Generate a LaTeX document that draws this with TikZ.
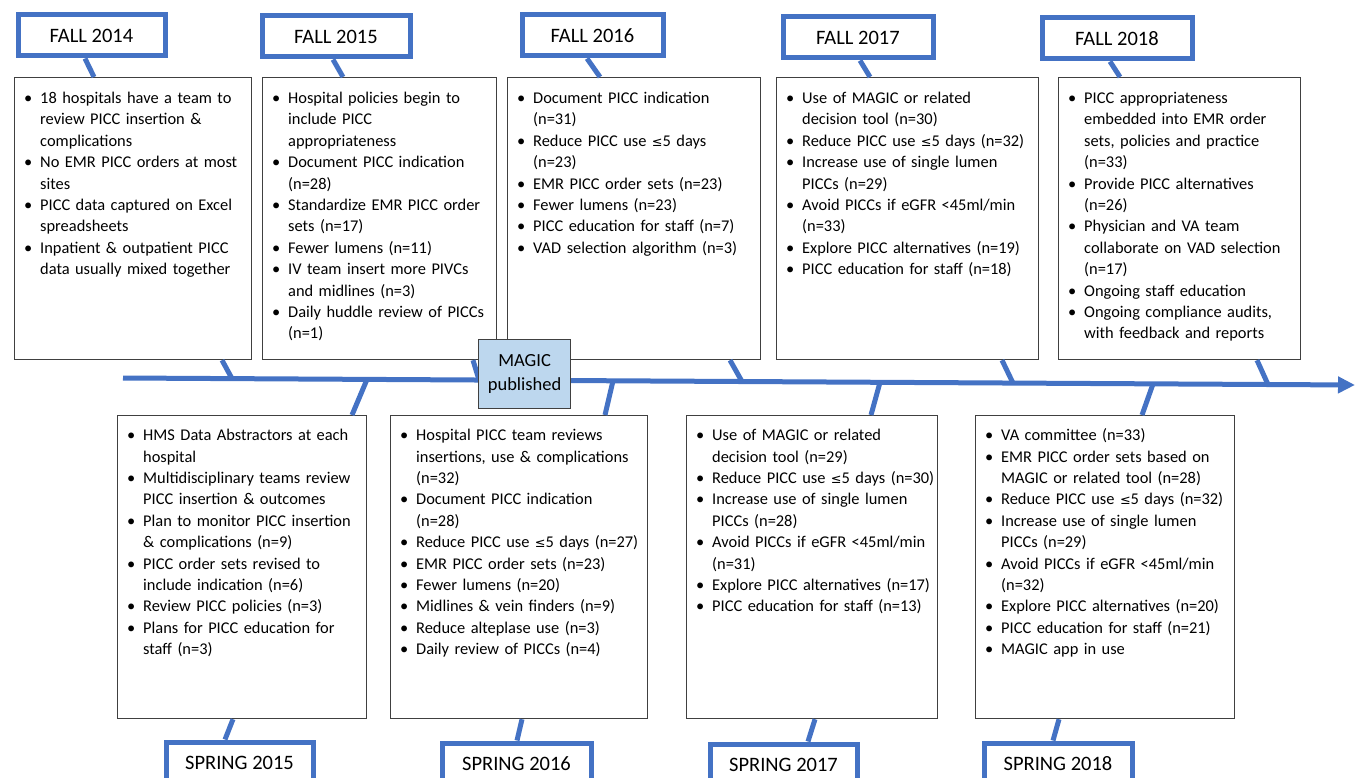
\documentclass[tikz,border=0pt]{standalone}
\usepackage{fontspec}
\setmainfont{Carlito}
\newfontfamily\symf{DejaVu Sans}[Scale=0.78]
\usetikzlibrary{arrows.meta,calc}
\definecolor{tblue}{HTML}{4472C4}
\definecolor{bgray}{HTML}{404040}
\definecolor{mfill}{HTML}{BDD7EE}
\newcommand\myle{{\symf ≤}}
\newcommand\bi{\par\noindent\hangindent=16pt\hangafter=1\strut\makebox[16pt][l]{\textbullet}}
\begin{document}
\begin{tikzpicture}[x=1pt,y=-1pt,
  tab/.style={draw=tblue,line width=5pt,fill=white,anchor=north west,inner sep=0,minimum height=41pt,font=\fontsize{20.5}{24}\selectfont},
  box/.style={draw=bgray,line width=1.2pt,fill=white,anchor=north west,inner sep=0},
  txt/.style={anchor=north west,inner sep=0,align=left,font=\fontsize{16.4}{21.4}\selectfont},
  link/.style={draw=tblue,line width=5pt}]
\useasboundingbox (0,0) rectangle (1356,778);
\clip (0,0) rectangle (1356,778);

% timeline
\coordinate (tl0) at (123,378);
\coordinate (tl1) at (1355,385);
\draw[link,-{Triangle[length=17pt,width=16pt]}] (tl0) -- (tl1);

% top boxes
\node[box,minimum width=237pt,minimum height=282pt] (b14) at (14,77) {};
\node[box,minimum width=234pt,minimum height=282pt] (b15) at (262,77) {};
\node[box,minimum width=253pt,minimum height=282pt] (b16) at (507,77) {};
\node[box,minimum width=262pt,minimum height=282pt] (b17) at (776,77) {};
\node[box,minimum width=242pt,minimum height=282pt] (b18) at (1058,77) {};
% bottom boxes
\node[box,minimum width=249pt,minimum height=303pt] (bs15) at (117,415) {};
\node[box,minimum width=257pt,minimum height=303pt] (bs16) at (390,415) {};
\node[box,minimum width=251pt,minimum height=303pt] (bs17) at (686,415) {};
\node[box,minimum width=259pt,minimum height=303pt] (bs18) at (975,415) {};

% tabs
\node[tab,minimum width=147pt] (t14) at (15.5,12.5) {FALL 2014};
\node[tab,minimum width=148pt] (t15) at (259.5,13.5) {FALL 2015};
\node[tab,minimum width=141pt] (t16) at (519.5,12.5) {FALL 2016};
\node[tab,minimum width=150pt] (t17) at (780.5,14.5) {FALL 2017};
\node[tab,minimum width=150pt] (t18) at (1039.5,15.5) {FALL 2018};
\node[tab,minimum width=147pt] (ts15) at (163.5,739.5) {SPRING 2015};
\node[tab,minimum width=149pt] (ts16) at (439.5,740.5) {SPRING 2016};
\node[tab,minimum width=147pt] (ts17) at (707.5,741.5) {SPRING 2017};
\node[tab,minimum width=148pt] (ts18) at (981.5,740.5) {SPRING 2018};

% texts
\node[txt,text width=225pt] (x14) at (24,82) {%
\bi 18 hospitals have a team to\newline review PICC insertion \&\newline complications
\bi No EMR PICC orders at most\newline sites
\bi PICC data captured on Excel\newline spreadsheets
\bi Inpatient \& outpatient PICC\newline data usually mixed together\par};
\node[txt,text width=222pt] (x15) at (272,82) {%
\bi Hospital policies begin to\newline include PICC\newline appropriateness
\bi Document PICC indication\newline (n=28)
\bi Standardize EMR PICC order\newline sets (n=17)
\bi Fewer lumens (n=11)
\bi IV team insert more PIVCs\newline and midlines (n=3)
\bi Daily huddle review of PICCs\newline (n=1)\par};
\node[txt,text width=241pt] (x16) at (517,82) {%
\bi Document PICC indication\newline (n=31)
\bi Reduce PICC use \myle5 days\newline (n=23)
\bi EMR PICC order sets (n=23)
\bi Fewer lumens (n=23)
\bi PICC education for staff (n=7)
\bi VAD selection algorithm (n=3)\par};
\node[txt,text width=250pt] (x17) at (786,82) {%
\bi Use of MAGIC or related\newline decision tool (n=30)
\bi Reduce PICC use \myle5 days (n=32)
\bi Increase use of single lumen\newline PICCs (n=29)
\bi Avoid PICCs if eGFR <45ml/min\newline (n=33)
\bi Explore PICC alternatives (n=19)
\bi PICC education for staff (n=18)\par};
\node[txt,text width=230pt] (x18) at (1068,82) {%
\bi PICC appropriateness\newline embedded into EMR order\newline sets, policies and practice\newline (n=33)
\bi Provide PICC alternatives\newline (n=26)
\bi Physician and VA team\newline collaborate on VAD selection\newline (n=17)
\bi Ongoing staff education
\bi Ongoing compliance audits,\newline with feedback and reports\par};
\node[txt,text width=237pt] (xs15) at (127,419) {%
\bi HMS Data Abstractors at each\newline hospital
\bi Multidisciplinary teams review\newline PICC insertion \& outcomes
\bi Plan to monitor PICC insertion\newline \& complications (n=9)
\bi PICC order sets revised to\newline include indication (n=6)
\bi Review PICC policies (n=3)
\bi Plans for PICC education for\newline staff (n=3)\par};
\node[txt,text width=245pt] (xs16) at (400,419) {%
\bi Hospital PICC team reviews\newline insertions, use \& complications\newline (n=32)
\bi Document PICC indication\newline (n=28)
\bi Reduce PICC use \myle5 days (n=27)
\bi EMR PICC order sets (n=23)
\bi Fewer lumens (n=20)
\bi Midlines \& vein finders (n=9)
\bi Reduce alteplase use (n=3)
\bi Daily review of PICCs (n=4)\par};
\node[txt,text width=239pt] (xs17) at (696,419) {%
\bi Use of MAGIC or related\newline decision tool (n=29)
\bi Reduce PICC use \myle5 days (n=30)
\bi Increase use of single lumen\newline PICCs (n=28)
\bi Avoid PICCs if eGFR <45ml/min\newline (n=31)
\bi Explore PICC alternatives (n=17)
\bi PICC education for staff (n=13)\par};
\node[txt,text width=247pt] (xs18) at (985,419) {%
\bi VA committee (n=33)
\bi EMR PICC order sets based on\newline MAGIC or related tool (n=28)
\bi Reduce PICC use \myle5 days (n=32)
\bi Increase use of single lumen\newline PICCs (n=29)
\bi Avoid PICCs if eGFR <45ml/min\newline (n=32)
\bi Explore PICC alternatives (n=20)
\bi PICC education for staff (n=21)
\bi MAGIC app in use\par};

% tab -> box connectors
\draw[link] ([xshift=69.5pt]t14.south west) -- ([xshift=80pt]b14.north west);
\draw[link] ([xshift=73.5pt]t15.south west) -- ([xshift=81pt]b15.north west);
\draw[link] ([xshift=67.5pt]t16.south west) -- ([xshift=93pt]b16.north west);
\draw[link] ([xshift=79.5pt]t17.south west) -- ([xshift=94pt]b17.north west);
\draw[link] ([xshift=70.5pt]t18.south west) -- ([xshift=62pt]b18.north west);

% box -> timeline
\coordinate (u14) at (232,378.6);
\coordinate (u15) at (479,380.0);
\coordinate (u16) at (742,381.5);
\coordinate (u17) at (1013,383.1);
\coordinate (u18) at (1268,384.5);
\draw[link] ([xshift=208pt]b14.south west) -- (u14);
\draw[link] ([xshift=211pt]b15.south west) -- (u15);
\draw[link] ([xshift=223pt]b16.south west) -- (u16);
\draw[link] ([xshift=226pt]b17.south west) -- (u17);
\draw[link] ([xshift=199pt]b18.south west) -- (u18);

% timeline -> bottom boxes
\coordinate (d15) at (367,379.4);
\coordinate (d16) at (613,380.8);
\coordinate (d17) at (880,382.3);
\coordinate (d18) at (1153,383.9);
\draw[link] (d15) -- ([xshift=235pt]bs15.north west);
\draw[link] (d16) -- ([xshift=215pt]bs16.north west);
\draw[link] (d17) -- ([xshift=185pt]bs17.north west);
\draw[link] (d18) -- ([xshift=167pt]bs18.north west);

% bottom boxes -> spring tabs
\draw[link] ([xshift=116pt]bs15.south west) -- ([xshift=61.5pt]ts15.north west);
\draw[link] ([xshift=132pt]bs16.south west) -- ([xshift=77.5pt]ts16.north west);
\draw[link] ([xshift=129pt]bs17.south west) -- ([xshift=100.5pt]ts17.north west);
\draw[link] ([xshift=84pt]bs18.south west) -- ([xshift=71.5pt]ts18.north west);

% MAGIC
\node[draw=bgray,line width=1.2pt,fill=mfill,minimum width=92pt,minimum height=69pt,anchor=north west,inner sep=0,align=center,font=\fontsize{18.5}{24}\selectfont] (mg) at (478,339) {MAGIC\\published};
\end{tikzpicture}
\end{document}
